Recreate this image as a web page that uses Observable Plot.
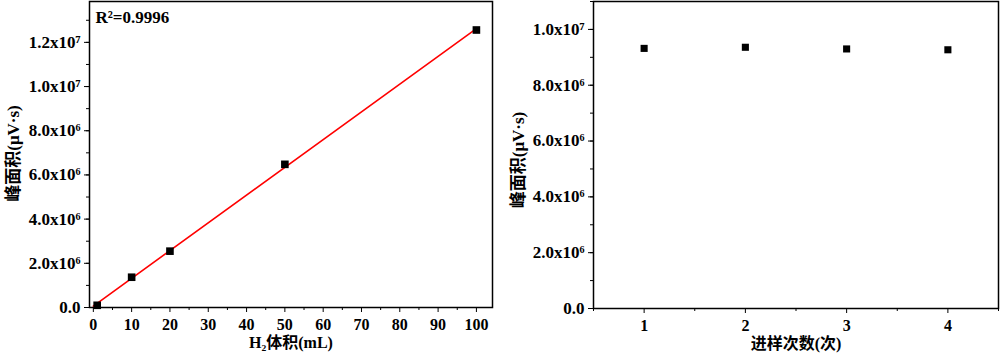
<!DOCTYPE html>
<html><head><meta charset="utf-8">
<script src="https://cdn.jsdelivr.net/npm/d3@7"></script>
<script src="https://cdn.jsdelivr.net/npm/@observablehq/plot@0.6"></script>
<style>
body{margin:0;background:#fff;}
#wrap{display:flex;width:1000px;height:355px;}
</style></head><body><div id="wrap"></div>
<script>
// Left panel: calibration
const volumes = [1, 10, 20, 50, 100];
const areas = [1.0e5, 1.37e6, 2.55e6, 6.48e6, 1.256e7];
const r2Label = "R²=0.9996";
const leftXTicks = [0,10,20,30,40,50,60,70,80,90,100];
const leftYTicks = [0, 2e6, 4e6, 6e6, 8e6, 1e7, 1.2e7];
// Right panel: repeatability
const injections = [1, 2, 3, 4];
const repAreas = [9.32e6, 9.36e6, 9.30e6, 9.27e6];
const rightYTicks = [0, 2e6, 4e6, 6e6, 8e6, 1e7];
const leftXLabel = "H₂体积(mL)";
const rightXLabel = "进样次数(次)";
const yLabel = "峰面积(μV·s)";

const sup = {"0":"⁰","1":"¹","2":"²","3":"³","4":"⁴","5":"⁵","6":"⁶","7":"⁷","8":"⁸","9":"⁹"};
function sci(v){
  if (v === 0) return "0.0";
  const e = Math.floor(Math.log10(v));
  return (v/Math.pow(10,e)).toFixed(1) + "x10" + String(e).split("").map(c=>sup[c]).join("");
}
// linear fit
const mx = d3.mean(volumes), my = d3.mean(areas);
const slope = d3.sum(volumes.map((x,i)=>(x-mx)*(areas[i]-my))) / d3.sum(volumes.map(x=>(x-mx)**2));
const icpt = my - slope*mx;
const fitX = [0, d3.max(volumes)];
const fit = fitX.map(x=>({x, y: icpt + slope*x}));
const pts = volumes.map((x,i)=>({x, y: areas[i]}));
const rep = injections.map((x,i)=>({x, y: repAreas[i]}));

const style = {fontFamily:"'Liberation Serif','Times New Roman',serif", fontWeight:"bold", fontSize:"17px", color:"#000", background:"#fff", overflow:"visible"};
const cjk = "'Liberation Serif','Noto Sans CJK SC',serif";

const left = Plot.plot({
  width: 500, height: 355,
  marginLeft: 89, marginRight: 8, marginTop: 1, marginBottom: 48,
  style,
  x: {domain: [-1, 104.2]},
  y: {domain: [0, 1.385e7]},
  marks: [
    Plot.axisY({ticks: d3.range(0, 1.31e7, 1e6), tickSize: 3, text: null, label: null}),
    Plot.axisY({ticks: leftYTicks, tickSize: 5, tickFormat: sci, tickPadding: 4, label: null, fontSize: 17}),
    Plot.axisX({ticks: d3.range(5, 105, 10), tickSize: 3, text: null, label: null}),
    Plot.axisX({ticks: leftXTicks, tickSize: 5, tickPadding: 6, tickFormat: d=>String(d), label: null, fontSize: 16}),
    Plot.frame({stroke: "#000", strokeWidth: 1.5}),
    Plot.line(fit, {x: "x", y: "y", stroke: "#ff0000", strokeWidth: 1.6}),
    Plot.dot(pts, {x: "x", y: "y", symbol: "square", r: 4.3, fill: "#000", stroke: "none"}),
    Plot.text([r2Label], {frameAnchor: "top-left", dx: 6, dy: 9, fontSize: 17, fontWeight: "bold", fill: "#000"}),
    Plot.text([leftXLabel], {frameAnchor: "bottom", dy: 40, fontSize: 16, fontWeight: "bold", fill: "#000", fontFamily: cjk}),
    Plot.text([yLabel], {frameAnchor: "left", textAnchor: "middle", dx: -76, dy: -1, rotate: -90, fontSize: 17, fontWeight: "bold", fill: "#000", fontFamily: cjk})
  ]
});

const right = Plot.plot({
  width: 500, height: 355,
  marginLeft: 93, marginRight: 2, marginTop: 1, marginBottom: 47,
  style,
  x: {domain: [0.5, 4.5]},
  y: {domain: [0, 1.1e7]},
  marks: [
    Plot.axisY({ticks: d3.range(0, 1.11e7, 1e6), tickSize: 3, text: null, label: null}),
    Plot.axisY({ticks: rightYTicks, tickSize: 5, tickFormat: sci, tickPadding: 4, label: null, fontSize: 17}),
    Plot.axisX({ticks: [0.5,1.5,2.5,3.5,4.5], tickSize: 3, text: null, label: null}),
    Plot.axisX({ticks: injections, tickSize: 5, tickPadding: 6, tickFormat: d=>String(d), label: null, fontSize: 16}),
    Plot.frame({stroke: "#000", strokeWidth: 1.5}),
    Plot.dot(rep, {x: "x", y: "y", symbol: "square", r: 4, fill: "#000", stroke: "none"}),
    Plot.text([rightXLabel], {frameAnchor: "bottom", dy: 40, fontSize: 16, fontWeight: "bold", fill: "#000", fontFamily: cjk}),
    Plot.text([yLabel], {frameAnchor: "left", textAnchor: "middle", dx: -75, dy: 5, rotate: -90, fontSize: 17, fontWeight: "bold", fill: "#000", fontFamily: cjk})
  ]
});
document.getElementById("wrap").append(left, right);
</script></body></html>
